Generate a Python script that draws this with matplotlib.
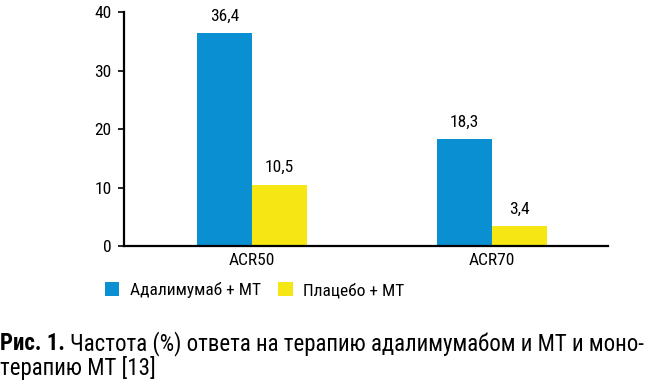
import numpy as np
import matplotlib.pyplot as plt

# Data
categories = ['ACR50', 'ACR70']
adalimumab = [36.4, 18.3]
placebo = [10.5, 3.4]
series_names = ['Адалимумаб + МТ', 'Плацебо + МТ']
yticks = [0, 10, 20, 30, 40]
caption_bold = 'Рис. 1.'
caption_line1 = 'Частота (%) ответа на терапию адалимумабом и МТ и моно-'
caption_line2 = 'терапию МТ [13]'

BLUE = '#0b8fd3'
YELLOW = '#f6e714'

plt.rcParams['font.family'] = ['Roboto Condensed', 'DejaVu Sans']

fig = plt.figure(figsize=(6.59, 3.81), dpi=100)
ax = fig.add_axes([0.188, 0.354, 0.7346, 0.6145])

x = np.arange(len(categories))
w = 0.228
b1 = ax.bar(x - w / 2, adalimumab, w, color=BLUE, label=series_names[0])
b2 = ax.bar(x + w / 2, placebo, w, color=YELLOW, label=series_names[1])

for bars, vals in ((b1, adalimumab), (b2, placebo)):
    for r, v in zip(bars, vals):
        ax.text(r.get_x() + r.get_width() / 2, v + 1.6, f'{v:.1f}'.replace('.', ','),
                ha='center', va='bottom', fontsize=12.5)

ax.set_xlim(-0.533, 1.483)
ax.set_ylim(0, 40)
ax.set_yticks(yticks)
ax.set_yticklabels([str(t) for t in yticks], fontsize=12.5)
ax.set_xticks(x)
ax.set_xticklabels(categories, fontsize=12.5)
ax.tick_params(axis='x', length=0, pad=5)
ax.tick_params(axis='y', length=4, width=1.2, pad=5)
for s in ('top', 'right'):
    ax.spines[s].set_visible(False)
for s in ('left', 'bottom'):
    ax.spines[s].set_linewidth(1.6)

fig.legend(handles=[b1, b2], labels=series_names, loc='center left',
           bbox_to_anchor=(0.135, 0.238), ncol=2, frameon=False,
           fontsize=12.5, handlelength=0.85, handleheight=0.85,
           handletextpad=0.6, columnspacing=1.0)

# Caption: bold prefix, then the rest placed right after it
t_bold = fig.text(0.0, 0.081, caption_bold, fontsize=16.5, fontweight='bold', va='baseline')
fig.canvas.draw()
bb = t_bold.get_window_extent(fig.canvas.get_renderer())
x1 = (bb.x1 + 5) / fig.bbox.width
fig.text(x1, 0.081, caption_line1, fontsize=16.5, va='baseline')
fig.text(0.0, 0.016, caption_line2, fontsize=16.5, va='baseline')

fig.savefig('out.png', dpi=100)
